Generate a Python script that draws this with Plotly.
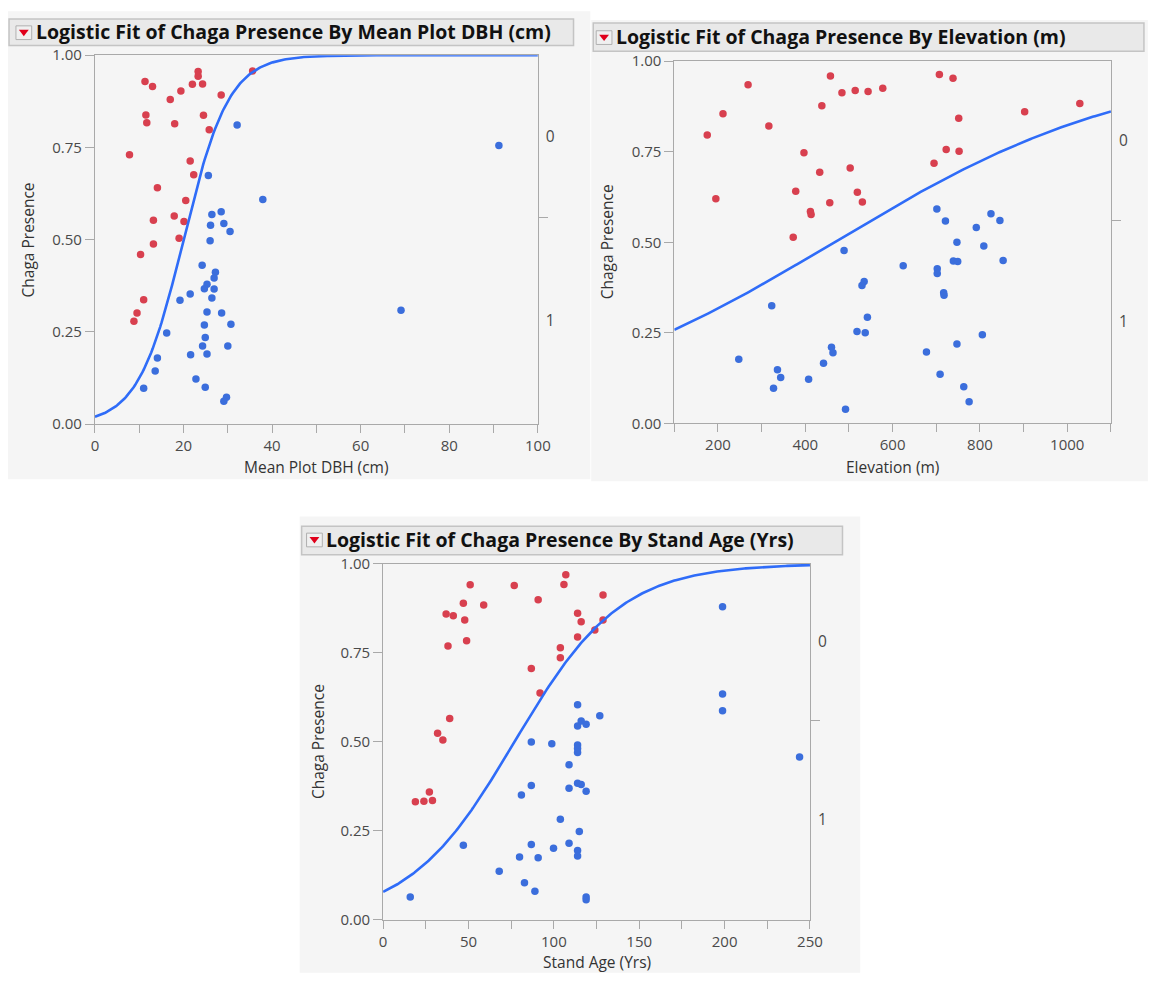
import numpy as np
import plotly.graph_objects as go

# page is 1161x982; the html body keeps its default 8px margin
PAGE_W, PAGE_H = 1161, 982
OFF = 8
W, H = PAGE_W - 2 * OFF, PAGE_H - 2 * OFF

# ---------------- data ----------------
# Panel 1: Mean Plot DBH (cm)
dbh_absent_x = [7.8, 8.8, 9.5, 10.3, 11.0, 11.3, 11.5, 11.7, 13.0, 13.2, 13.2, 14.1, 17.0, 17.9, 18.0,
                19.0, 19.4, 20.1, 20.5, 21.5, 22.0, 22.3, 23.3, 23.3, 24.3, 24.5, 25.8, 28.5, 35.6]
dbh_absent_y = [0.730, 0.279, 0.301, 0.460, 0.337, 0.929, 0.838, 0.817, 0.915, 0.553, 0.488, 0.641, 0.880,
                0.564, 0.814, 0.504, 0.903, 0.549, 0.606, 0.713, 0.921, 0.676, 0.956, 0.943, 0.922, 0.837,
                0.798, 0.892, 0.957]
dbh_present_x = [32.1, 91.2, 37.9, 25.6, 28.5, 26.4, 26.1, 29.1, 30.5, 26.0, 24.2, 27.2, 26.9, 25.3, 24.7,
                 26.9, 21.5, 19.2, 26.4, 25.3, 28.6, 69.1, 24.7, 30.7, 16.2, 24.9, 24.3, 30.0, 21.6, 25.3,
                 14.1, 13.6, 22.8, 11.0, 24.9, 29.7, 29.1]
dbh_present_y = [0.811, 0.755, 0.609, 0.674, 0.576, 0.568, 0.539, 0.544, 0.522, 0.497, 0.431, 0.412, 0.396,
                 0.379, 0.367, 0.366, 0.353, 0.336, 0.342, 0.304, 0.301, 0.309, 0.269, 0.271, 0.247, 0.235,
                 0.212, 0.212, 0.188, 0.190, 0.179, 0.144, 0.122, 0.097, 0.100, 0.073, 0.062]
dbh_fit = dict(slope=0.195, mid=20.0)

# Panel 2: Elevation (m)
elev_absent_x = [175.4, 195.1, 211.5, 268.9, 316.5, 372.3, 378.1, 396.9, 411.7, 413.3, 433.0, 437.9, 456.0,
                 457.6, 483.9, 502.8, 514.3, 519.2, 530.7, 543.8, 577.4, 694.8, 707.1, 722.7, 738.3, 751.4,
                 752.2, 902.4, 1028.7]
elev_absent_y = [0.796, 0.620, 0.855, 0.935, 0.821, 0.514, 0.641, 0.747, 0.585, 0.577, 0.693, 0.877, 0.609,
                 0.959, 0.913, 0.705, 0.919, 0.638, 0.611, 0.916, 0.925, 0.718, 0.963, 0.756, 0.953, 0.842,
                 0.751, 0.860, 0.883]
elev_present_x = [701.3, 721.0, 825.2, 845.7, 791.6, 747.3, 808.8, 488.8, 624.2, 702.2, 702.2, 739.1, 749.0,
                  853.1, 534.8, 529.8, 716.9, 717.7, 323.1, 542.2, 518.4, 537.2, 805.5, 747.3, 460.0, 463.4,
                  677.5, 247.6, 441.7, 336.2, 343.6, 407.6, 708.7, 327.2, 762.9, 775.2, 492.1]
elev_present_y = [0.592, 0.559, 0.579, 0.560, 0.541, 0.500, 0.490, 0.477, 0.435, 0.427, 0.414, 0.448, 0.447,
                  0.450, 0.392, 0.381, 0.361, 0.354, 0.325, 0.293, 0.254, 0.250, 0.245, 0.219, 0.210, 0.195,
                  0.197, 0.177, 0.166, 0.148, 0.127, 0.122, 0.136, 0.097, 0.101, 0.060, 0.039]
elev_fit = dict(slope=0.00288, mid=466.0)

# Panel 3: Stand Age (Yrs)
age_absent_x = [18.9, 23.9, 27.1, 28.9, 31.9, 35.0, 36.9, 38.0, 39.0, 41.1, 47.0, 47.8, 48.9, 51.0, 58.9,
                76.8, 86.8, 90.8, 91.9, 103.8, 103.8, 105.9, 107.0, 113.9, 113.9, 116.0, 124.0, 128.8, 128.8]
age_absent_y = [0.331, 0.333, 0.359, 0.335, 0.524, 0.505, 0.859, 0.769, 0.565, 0.854, 0.889, 0.842, 0.784,
                0.941, 0.884, 0.939, 0.706, 0.899, 0.637, 0.764, 0.736, 0.942, 0.969, 0.861, 0.794, 0.837,
                0.814, 0.912, 0.842]
age_present_x = [15.9, 47.0, 68.0, 79.9, 81.0, 82.8, 86.8, 86.8, 86.8, 88.9, 90.8, 98.8, 99.8, 103.8, 108.9,
                 108.9, 108.9, 113.9, 113.9, 113.9, 113.9, 113.9, 113.9, 113.9, 113.9, 116.0, 116.0, 114.9,
                 118.9, 118.9, 118.9, 118.9, 126.9, 198.8, 198.8, 198.8, 243.9]
age_present_y = [0.064, 0.209, 0.136, 0.176, 0.350, 0.104, 0.499, 0.377, 0.211, 0.080, 0.174, 0.494, 0.201,
                 0.282, 0.435, 0.369, 0.215, 0.604, 0.544, 0.491, 0.481, 0.470, 0.383, 0.194, 0.179, 0.558,
                 0.380, 0.248, 0.549, 0.361, 0.064, 0.056, 0.573, 0.879, 0.634, 0.587, 0.457]
age_fit = dict(slope=0.0321, mid=77.0)

# shared response levels (right-hand axis)
level_labels = ["1", "0"]

# ---------------- styling ----------------
RED = "#d8404f"
BLUE = "#3b6edc"
CURVE = "#2f6cf8"
FRAME = "#a9a9a9"
PANEL_BG = "#f5f5f5"
HEAD_BG = "#e9e9e9"
HEAD_LINE = "#c4c4c4"
FONT = "Open Sans, Noto Sans, DejaVu Sans, sans-serif"
TICK_COLOR = "#4a4a4a"


def px(x):
    return (x - OFF) / W


def py(y):
    return 1 - (y - OFF) / H


panels = [
    dict(title="Logistic Fit of Chaga Presence By Mean Plot DBH (cm)", xtitle="Mean Plot DBH (cm)",
         ax=(dbh_absent_x, dbh_absent_y), pr=(dbh_present_x, dbh_present_y), fit=dbh_fit,
         xr=[0, 100], dtick=20, minor=10,
         frame=(92.2, 541.8, 45.0, 421.7),
         bg=(0, 595, 0, 478), head=(5, 578, 8, 35), icon=(12, 28, 15, 29),
         ytitle_x=24, xtitle_y=465),
    dict(title="Logistic Fit of Chaga Presence By Elevation (m)", xtitle="Elevation (m)",
         ax=(elev_absent_x, elev_absent_y), pr=(elev_present_x, elev_present_y), fit=elev_fit,
         xr=[100, 1100], dtick=200, minor=100,
         frame=(680.3, 1123.5, 51.0, 421.0),
         bg=(596, 1161, 9, 480), head=(598, 1157, 12, 41), icon=(601, 617, 20, 34),
         ytitle_x=612, xtitle_y=465),
    dict(title="Logistic Fit of Chaga Presence By Stand Age (Yrs)", xtitle="Stand Age (Yrs)",
         ax=(age_absent_x, age_absent_y), pr=(age_present_x, age_present_y), fit=age_fit,
         xr=[0, 250], dtick=50, minor=25,
         frame=(384.7, 818.0, 564.3, 927.7),
         bg=(300, 869, 516, 982), head=(302, 851, 526, 555), icon=(307, 323, 533, 547),
         ytitle_x=318, xtitle_y=971),
]

fig = go.Figure()
shapes = []
annotations = []
layout_axes = {}

for i, p in enumerate(panels, start=1):
    n_abs = len(p["ax"][0])
    n_pre = len(p["pr"][0])
    share = n_pre / (n_abs + n_pre)
    xs = "" if i == 1 else str(i)
    xa, ya = "x" + xs, "y" + xs
    yr_name = "y" + str(i + 3)

    x0, x1, y0, y1 = p["frame"]
    b0, b1, c0, c1 = p["bg"]
    shapes.append(dict(type="rect", xref="paper", yref="paper", x0=px(b0), x1=px(b1), y0=py(c1), y1=py(c0),
                       fillcolor=PANEL_BG, line=dict(width=0), layer="below"))
    h0, h1, k0, k1 = p["head"]
    shapes.append(dict(type="rect", xref="paper", yref="paper", x0=px(h0), x1=px(h1), y0=py(k1), y1=py(k0),
                       fillcolor=HEAD_BG, line=dict(color=HEAD_LINE, width=1.5), layer="below"))
    i0, i1, j0, j1 = p["icon"]
    shapes.append(dict(type="rect", xref="paper", yref="paper", x0=px(i0), x1=px(i1), y0=py(j1), y1=py(j0),
                       fillcolor="#f0f0f0", line=dict(color="#b0b0b0", width=1), layer="above"))
    cx = (i0 + i1) / 2
    cy = (j0 + j1) / 2
    tri = "M {} {} L {} {} L {} {} Z".format(px(cx - 5), py(cy - 3), px(cx + 5), py(cy - 3), px(cx), py(cy + 3.5))
    shapes.append(dict(type="path", xref="paper", yref="paper", path=tri, fillcolor="#e0001b",
                       line=dict(width=0), layer="above"))

    annotations.append(dict(text="<b>" + p["title"] + "</b>", xref="paper", yref="paper",
                            x=px(i1 + 3), y=py((k0 + k1) / 2 - 1), xanchor="left", yanchor="middle",
                            showarrow=False, borderpad=0,
                            font=dict(family=FONT, size=19.5, color="#111")))
    annotations.append(dict(text="Chaga Presence", xref="paper", yref="paper", textangle=-90,
                            x=px(p["ytitle_x"]), y=py((y0 + y1) / 2), xanchor="center", yanchor="middle",
                            showarrow=False, font=dict(family=FONT, size=15.5, color="#333")))
    annotations.append(dict(text=p["xtitle"], xref="paper", yref="paper",
                            x=px((x0 + x1) / 2), y=py(p["xtitle_y"]), xanchor="center", yanchor="middle",
                            showarrow=False, font=dict(family=FONT, size=15.5, color="#333")))

    fig.add_trace(go.Scatter(x=p["ax"][0], y=p["ax"][1], mode="markers", xaxis=xa, yaxis=ya,
                             marker=dict(color=RED, size=7.5), showlegend=False, hoverinfo="x+y"))
    fig.add_trace(go.Scatter(x=p["pr"][0], y=p["pr"][1], mode="markers", xaxis=xa, yaxis=ya,
                             marker=dict(color=BLUE, size=7.5), showlegend=False, hoverinfo="x+y"))
    xx = np.linspace(p["xr"][0], p["xr"][1], 300)
    yy = 1 / (1 + np.exp(-p["fit"]["slope"] * (xx - p["fit"]["mid"])))
    fig.add_trace(go.Scatter(x=xx, y=yy, mode="lines", xaxis=xa, yaxis=ya,
                             line=dict(color=CURVE, width=2.6), showlegend=False, hoverinfo="skip"))
    # invisible trace to activate the right-hand level axis
    fig.add_trace(go.Scatter(x=[p["xr"][0]], y=[0], mode="markers", xaxis=xa, yaxis=yr_name,
                             marker=dict(opacity=0), showlegend=False, hoverinfo="skip"))

    layout_axes["xaxis" + xs] = dict(
        domain=[px(x0), px(x1)], range=p["xr"], anchor=ya, showgrid=False, zeroline=False,
        showline=True, linecolor=FRAME, linewidth=1, mirror=True,
        ticks="outside", ticklen=8, tickcolor=FRAME, dtick=p["dtick"], tick0=0,
        minor=dict(dtick=p["minor"], ticks="outside", ticklen=8, tickcolor=FRAME, tick0=0),
        tickfont=dict(family=FONT, size=15, color=TICK_COLOR), fixedrange=True)
    layout_axes["yaxis" + xs] = dict(
        domain=[py(y1), py(y0)], range=[0, 1], anchor=xa, showgrid=False, zeroline=False,
        showline=True, linecolor=FRAME, linewidth=1, mirror=True,
        ticks="outside", ticklen=9, tickcolor=FRAME, tickvals=[0, 0.25, 0.5, 0.75, 1.0],
        tickformat=".2f", tickfont=dict(family=FONT, size=15, color=TICK_COLOR), fixedrange=True)
    layout_axes["yaxis" + str(i + 3)] = dict(
        overlaying=ya, anchor=xa, side="right", range=[0, 1], showgrid=False, zeroline=False,
        showline=False, ticks="", tickvals=[share / 2, (1 + share) / 2], ticktext=level_labels,
        ticklabelstandoff=7,
        minor=dict(tickvals=[share], ticks="outside", ticklen=9, tickcolor=FRAME),
        tickfont=dict(family=FONT, size=15.5, color=TICK_COLOR), fixedrange=True)

fig.update_layout(
    width=W, height=H, margin=dict(l=0, r=0, t=0, b=0),
    paper_bgcolor="white", plot_bgcolor="white",
    shapes=shapes, annotations=annotations, showlegend=False,
    font=dict(family=FONT),
    **layout_axes)

fig.write_html("out.html", config={"displayModeBar": False})
